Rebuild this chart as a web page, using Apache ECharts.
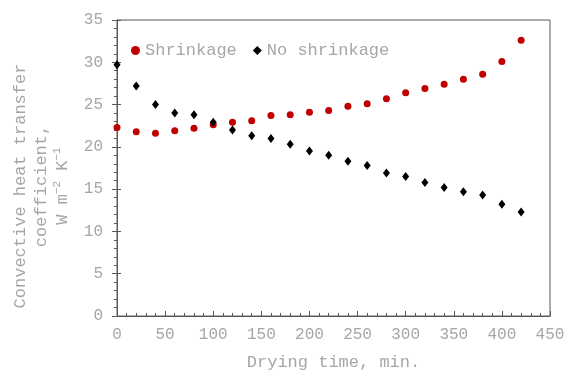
<!DOCTYPE html>
<html><head><meta charset="utf-8">
<script src="https://cdn.jsdelivr.net/npm/echarts@6/dist/echarts.min.js"></script>
<style>html,body{margin:0;padding:0;background:#fff}#c{width:565px;height:373px}</style>
</head><body><div id="c"></div>
<script>
var times = [0,20,40,60,80,100,120,140,160,180,200,220,240,260,280,300,320,340,360,380,400,420];
var shrinkage = [22.3,21.8,21.6,21.9,22.2,22.6,22.9,23.1,23.7,23.8,24.1,24.3,24.8,25.1,25.7,26.4,26.9,27.4,28.0,28.6,30.1,32.6];
var noShrinkage = [29.7,27.2,25.0,24.0,23.8,22.9,22.0,21.3,21.0,20.3,19.5,19.0,18.3,17.8,16.9,16.5,15.8,15.2,14.7,14.3,13.2,12.3];
var seriesNames = ['Shrinkage','No shrinkage'];
var xTitle = 'Drying time, min.';
var yTitleLines = ['Convective heat transfer','coefficient,'];

function pairs(xs, ys){ return xs.map(function(x,i){ return [x, ys[i]]; }); }

var gray = '#a6a6a6';
var axisCol = '#595959';
var font = '"Liberation Mono", "DejaVu Sans Mono", monospace';

var chart = echarts.init(document.getElementById('c'), null, {renderer:'canvas'});
chart.setOption({
  animation: false,
  textStyle: {fontFamily: font},
  grid: {left:117, right:15, top:20, bottom:57, show:true, borderColor:axisCol, borderWidth:1, containLabel:false, outerBoundsMode:'none'},
  legend: {
    left: 126, top: 37, itemWidth: 9, itemHeight: 9, itemGap: 16,
    textStyle: {color: gray, fontSize: 17, fontFamily: font},
    data: [{name: seriesNames[0], icon:'circle'}, {name: seriesNames[1], icon:'diamond'}]
  },
  xAxis: {
    type:'value', min:0, max:450, interval:50,
    name: xTitle, nameLocation:'middle', nameGap:38,
    nameTextStyle:{color:gray, fontSize:17, fontFamily:font},
    axisLine:{lineStyle:{color:axisCol}},
    axisTick:{inside:true, length:5, lineStyle:{color:axisCol}},
    minorTick:{show:true, splitNumber:5, length:3, lineStyle:{color:axisCol}},
    axisLabel:{color:gray, fontSize:16, margin:11, fontFamily:font},
    splitLine:{show:false}
  },
  yAxis: [{
    type:'value', min:0, max:35, interval:5,
    name: '{a|' + yTitleLines[0] + '}\n{a|' + yTitleLines[1] + '}\n{a|W m}{s|−2}{a| K}{s|−1}',
    nameLocation:'middle', nameGap:44, nameRotate:90,
    nameTextStyle:{color:gray, fontSize:17, fontFamily:font, lineHeight:21, padding:[0,36,0,0],
      rich:{a:{fontSize:17, color:gray, fontFamily:font, lineHeight:21}, s:{fontSize:11, color:gray, fontFamily:font, verticalAlign:'top', lineHeight:21, padding:[0,0,6,0]}}},
    axisLine:{lineStyle:{color:axisCol}},
    axisTick:{inside:false, length:5, lineStyle:{color:axisCol}},
    minorTick:{show:true, splitNumber:5, length:3, lineStyle:{color:axisCol}},
    axisLabel:{color:gray, fontSize:16, margin:14, fontFamily:font},
    splitLine:{show:false}
  },{
    type:'value', min:0, max:35, interval:5, position:'left',
    axisLine:{show:false},
    axisTick:{inside:true, length:4, lineStyle:{color:axisCol}},
    axisLabel:{show:false}, splitLine:{show:false}
  }],
  series: [{
    name: seriesNames[0], type:'scatter', symbol:'circle', symbolSize:7,
    itemStyle:{color:'#c00000', opacity:1}, data: pairs(times, shrinkage)
  },{
    name: seriesNames[1], type:'scatter', symbol:'diamond', symbolSize:[7,9],
    itemStyle:{color:'#000000', opacity:1}, data: pairs(times, noShrinkage)
  }]
});
</script></body></html>
